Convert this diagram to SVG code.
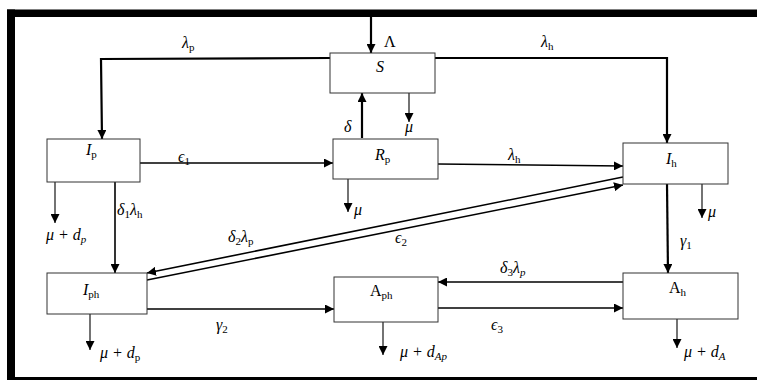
<svg xmlns="http://www.w3.org/2000/svg" width="757" height="380" viewBox="0 0 757 380">
<style>
.box{fill:#fff;stroke:#333;stroke-width:1}
.ln{fill:none;stroke:#000;stroke-width:1.6}
.thk{fill:none;stroke:#000;stroke-width:2.2}
.thn{fill:none;stroke:#000;stroke-width:1.1}
text{font-family:"Liberation Serif","DejaVu Serif",serif;font-size:16px;fill:#000}
.it{font-style:italic}
.sub{font-size:11px;font-style:normal}
.subi{font-size:11px;font-style:italic}
</style>
<defs>
<marker id="ah" viewBox="0 0 10 10" refX="10" refY="5" markerWidth="9" markerHeight="9" markerUnits="userSpaceOnUse" orient="auto">
<path d="M0,0 L10,5 L0,10 z" fill="#000"/>
</marker>
</defs>
<rect x="0" y="0" width="757" height="380" fill="#fff"/>
<g id="frame">
<rect x="7" y="9.5" width="750" height="7.5" fill="#000"/>
<rect x="7" y="9.5" width="8" height="371" fill="#000"/>
<rect x="7" y="377" width="750" height="4" fill="#000"/>
</g>
<g id="connectors">
<line class="thk" x1="371" y1="17" x2="371" y2="53" marker-end="url(#ah)"/>
<polyline class="thk" points="330,58 101,59 102,139" marker-end="url(#ah)"/>
<polyline class="thk" points="435,58 667,58 667,143" marker-end="url(#ah)"/>
<line class="thn" x1="409" y1="93" x2="409" y2="122" marker-end="url(#ah)"/>
<line class="thk" x1="362" y1="138" x2="362" y2="93" marker-end="url(#ah)"/>
<line class="ln" x1="140" y1="163" x2="333" y2="163" marker-end="url(#ah)"/>
<line class="thn" x1="348" y1="179" x2="348" y2="212" marker-end="url(#ah)"/>
<line class="ln" x1="438" y1="164" x2="623" y2="166" marker-end="url(#ah)"/>
<line class="thn" x1="702" y1="184" x2="702" y2="218" marker-end="url(#ah)"/>
<line class="thk" x1="667" y1="184" x2="668" y2="273" marker-end="url(#ah)"/>
<line class="thn" x1="55" y1="182" x2="55" y2="223" marker-end="url(#ah)"/>
<line class="ln" x1="115" y1="182" x2="115" y2="273" marker-end="url(#ah)"/>
<line class="ln" x1="623" y1="177" x2="147" y2="273" marker-end="url(#ah)"/>
<line class="ln" x1="147" y1="280" x2="623" y2="185" marker-end="url(#ah)"/>
<line class="thn" x1="90" y1="314" x2="90" y2="350" marker-end="url(#ah)"/>
<line class="ln" x1="147" y1="309" x2="334" y2="309" marker-end="url(#ah)"/>
<line class="thn" x1="383" y1="322" x2="383" y2="355" marker-end="url(#ah)"/>
<line class="ln" x1="623" y1="282" x2="438" y2="282" marker-end="url(#ah)"/>
<line class="ln" x1="438" y1="308" x2="623" y2="308" marker-end="url(#ah)"/>
<line class="thn" x1="677" y1="319" x2="677" y2="348" marker-end="url(#ah)"/>
</g>
<g id="S"><rect class="box" x="330" y="53" width="105" height="40"/><text class="it" x="380" y="72" text-anchor="middle">S</text></g>
<g id="Ip"><rect class="box" x="47" y="139" width="93" height="43"/><text class="it" x="86" y="155">I<tspan class="sub" dy="3">p</tspan></text></g>
<g id="Rp"><rect class="box" x="333" y="139" width="105" height="40"/><text class="it" x="375" y="160">R<tspan class="sub" dy="3">p</tspan></text></g>
<g id="Ih"><rect class="box" x="623" y="143" width="105" height="41"/><text class="it" x="666" y="164">I<tspan class="sub" dy="3">h</tspan></text></g>
<g id="Iph"><rect class="box" x="47" y="273" width="100" height="41"/><text class="it" x="83" y="295">I<tspan class="sub" dy="3">ph</tspan></text></g>
<g id="Aph"><rect class="box" x="334" y="277" width="104" height="45"/><text x="370" y="296">A<tspan class="sub" dy="3">ph</tspan></text></g>
<g id="Ah"><rect class="box" x="623" y="273" width="115" height="46"/><text x="669" y="293">A<tspan class="sub" dy="3">h</tspan></text></g>
<g id="labels">
<text class="it" x="182" y="48">λ<tspan class="sub" dy="3">p</tspan></text>
<text x="384" y="47">Λ</text>
<text class="it" x="541" y="47">λ<tspan class="sub" dy="3">h</tspan></text>
<text class="it" x="405" y="132">μ</text>
<text class="it" x="344" y="132">δ</text>
<text class="it" x="178" y="162">ϵ<tspan class="sub" dy="3">1</tspan></text>
<text class="it" x="508" y="160">λ<tspan class="sub" dy="3">h</tspan></text>
<text class="it" x="354" y="215">μ</text>
<text class="it" x="708" y="217">μ</text>
<text class="it" x="117" y="215">δ<tspan class="sub" dy="3">1</tspan><tspan dy="-3">λ</tspan><tspan class="sub" dy="3">h</tspan></text>
<text class="it" x="46" y="240">μ + d<tspan class="subi" dy="3">p</tspan></text>
<text class="it" x="228" y="242">δ<tspan class="sub" dy="3">2</tspan><tspan dy="-3">λ</tspan><tspan class="sub" dy="3">p</tspan></text>
<text class="it" x="395" y="243">ϵ<tspan class="sub" dy="3">2</tspan></text>
<text class="it" x="680" y="246">γ<tspan class="sub" dy="3">1</tspan></text>
<text class="it" x="500" y="273">δ<tspan class="sub" dy="3">3</tspan><tspan dy="-3">λ</tspan><tspan class="subi" dy="3">p</tspan></text>
<text class="it" x="216" y="330">γ<tspan class="sub" dy="3">2</tspan></text>
<text class="it" x="491" y="330">ϵ<tspan class="sub" dy="3">3</tspan></text>
<text class="it" x="100" y="358">μ + d<tspan class="sub" dy="3">p</tspan></text>
<text class="it" x="400" y="357">μ + d<tspan class="subi" dy="3">Ap</tspan></text>
<text class="it" x="684" y="357">μ + d<tspan class="subi" dy="3">A</tspan></text>
</g>
</svg>
